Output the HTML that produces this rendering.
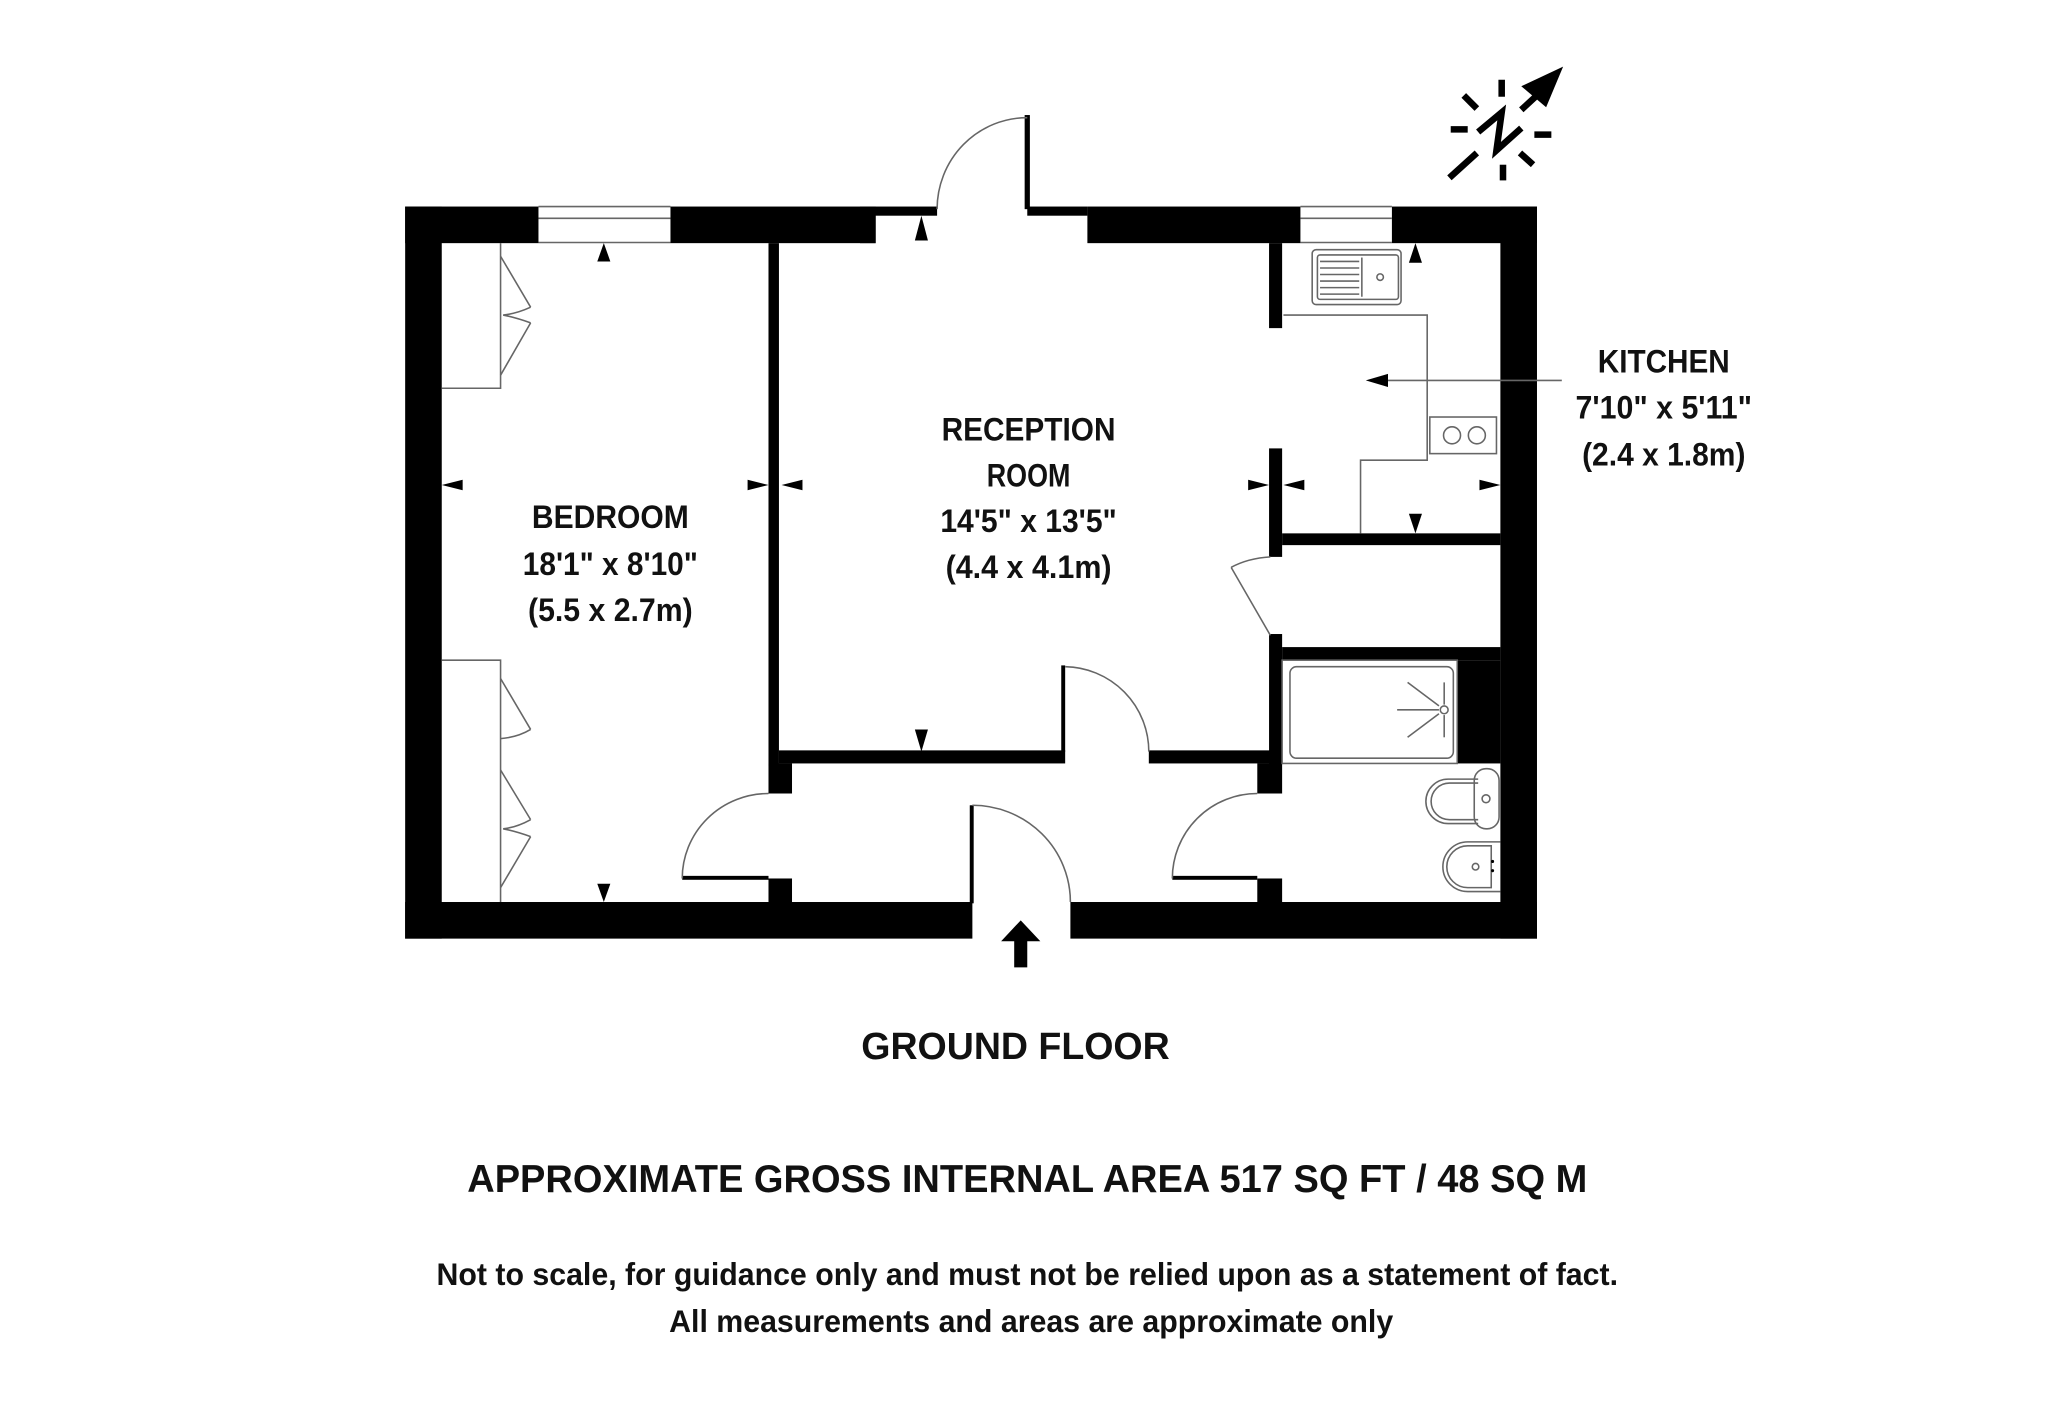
<!DOCTYPE html>
<html><head><meta charset="utf-8"><style>
html,body{margin:0;padding:0;background:#fff;}
svg{display:block;}
text{font-family:"Liberation Sans",sans-serif;font-weight:bold;fill:#111;text-anchor:middle;}
</style></head><body>
<svg width="2048" height="1404" viewBox="0 0 1567 1074" preserveAspectRatio="none" xmlns="http://www.w3.org/2000/svg">
<rect width="1567" height="1074" fill="#fff"/>
<g fill="#000">
<!-- outer walls -->
<rect x="310" y="158" width="28" height="560"/>
<rect x="1148" y="158" width="28" height="560"/>
<rect x="310" y="690" width="434" height="28"/>
<rect x="819" y="690" width="357" height="28"/>
<rect x="310" y="158" width="102" height="28"/>
<rect x="513" y="158" width="157" height="28"/>
<rect x="658" y="158" width="59" height="7"/>
<rect x="658" y="158" width="12" height="28"/>
<rect x="786" y="158" width="46" height="7"/>
<rect x="832" y="158" width="163" height="28"/>
<rect x="1065" y="158" width="111" height="28"/>
<rect x="784" y="88" width="4" height="72"/>
<!-- bedroom/reception partition -->
<rect x="588" y="186" width="8" height="400"/>
<rect x="588" y="584" width="18" height="23"/>
<rect x="588" y="672" width="18" height="20"/>
<!-- reception bottom wall -->
<rect x="596" y="574" width="219" height="10"/>
<rect x="879" y="574" width="93" height="10"/>
<rect x="812" y="509" width="3" height="66"/>
<!-- kitchen partition -->
<rect x="971" y="186" width="10" height="65"/>
<rect x="971" y="343" width="10" height="83"/>
<rect x="971" y="485" width="10" height="100"/>
<rect x="962" y="584" width="19" height="23"/>
<rect x="962" y="672" width="19" height="20"/>
<rect x="981" y="408" width="167" height="9"/>
<rect x="981" y="495" width="167" height="10"/>
<rect x="1115" y="505" width="33" height="79"/>
<rect x="742" y="616" width="3" height="75"/>
<!-- door leaves -->
<rect x="522" y="670" width="66" height="3"/>
<rect x="897" y="670" width="65" height="3"/>
</g>
<g fill="none" stroke="#666" stroke-width="1.2">
<!-- windows -->
<line x1="412" y1="158" x2="513" y2="158"/><line x1="412" y1="167" x2="513" y2="167"/><line x1="412" y1="185.5" x2="513" y2="185.5"/>
<line x1="995" y1="158" x2="1065" y2="158"/><line x1="995" y1="167" x2="1065" y2="167"/><line x1="995" y1="185.5" x2="1065" y2="185.5"/>
<!-- door arcs -->
<path d="M717 160 A69 70 0 0 1 786 90"/>
<path d="M815 510 A65 65 0 0 1 879 575"/>
<path d="M522 672 A66 65 0 0 1 588 607"/>
<path d="M897 672 A65 65 0 0 1 962 607"/>
<path d="M744 616 A75 74 0 0 1 819 690"/>
<path d="M942 434 Q955 427 972 426"/><line x1="942" y1="434" x2="972" y2="486"/>
<!-- wardrobes -->
<polyline points="338,297 383,297 383,186"/>
<polyline points="338,505 383,505 383,690"/>
<polyline points="383,196 406,235"/><path d="M406 235 Q395 240 385 241 Q395 243 406 247"/><polyline points="406,247 383,287"/>
<polyline points="383,519 406,558"/><path d="M406 558 Q396 564 383 565"/>
<polyline points="383,589 406,627"/><path d="M406 627 Q395 633 385 634 Q395 636 406 640"/><polyline points="406,640 383,679"/>
<!-- kitchen -->
<polyline points="982,241 1092,241 1092,352 1041,352 1041,408"/>
<rect x="1004" y="191" width="68" height="42" rx="3"/>
<rect x="1008" y="195" width="62" height="34" rx="2"/>
<line x1="1010" y1="200" x2="1040" y2="200"/><line x1="1010" y1="205" x2="1040" y2="205"/><line x1="1010" y1="210" x2="1040" y2="210"/><line x1="1010" y1="215" x2="1040" y2="215"/><line x1="1010" y1="220" x2="1040" y2="220"/><line x1="1010" y1="225" x2="1040" y2="225"/>
<line x1="1042" y1="197" x2="1042" y2="227"/>
<circle cx="1056" cy="212" r="2.5"/>
<rect x="1094" y="319" width="51" height="28"/>
<circle cx="1111" cy="333" r="6.5"/><circle cx="1130" cy="333" r="6.5"/>
<!-- bath -->
<rect x="981" y="505" width="134" height="79"/>
<rect x="987" y="510" width="125" height="70" rx="5"/>
<circle cx="1105" cy="543" r="3"/>
<line x1="1069" y1="543" x2="1101" y2="543"/>
<line x1="1077" y1="522" x2="1101" y2="540"/><line x1="1077" y1="564" x2="1101" y2="546"/>
<line x1="1105" y1="522" x2="1105" y2="539"/><line x1="1105" y1="547" x2="1105" y2="564"/>
<!-- toilet -->
<path d="M1131 596 L1108 596 A17 17 0 0 0 1108 630 L1131 630"/>
<path d="M1131 599 L1109 599 A14 14 0 0 0 1109 627 L1131 627"/>
<rect x="1128" y="588" width="19" height="46" rx="9"/>
<circle cx="1137" cy="611" r="3"/>
<!-- basin -->
<path d="M1148 644 L1123 644 A19 19 0 0 0 1123 682 L1148 682"/>
<path d="M1141 647 L1123 647 A16 16 0 0 0 1123 679 L1141 679 Z"/>
<circle cx="1129" cy="663" r="2.5"/>
<line x1="1195" y1="291" x2="1060" y2="291"/>
</g>
<g fill="#000">
<circle cx="1142" cy="659" r="1.2"/><circle cx="1142" cy="666" r="1.2"/>
<!-- dimension arrows -->
<polygon points="462,186 457,200 467,200"/>
<polygon points="462,690 457,676 467,676"/>
<polygon points="338,371 354,367 354,375"/>
<polygon points="588,371 572,367 572,375"/>
<polygon points="705,165 700,184 710,184"/>
<polygon points="705,575 700,558 710,558"/>
<polygon points="598,371 614,367 614,375"/>
<polygon points="971,371 955,367 955,375"/>
<polygon points="1083,186 1078,201 1088,201"/>
<polygon points="1083,408 1078,393 1088,393"/>
<polygon points="982,371 998,367 998,375"/>
<polygon points="1148,371 1132,367 1132,375"/>
<polygon points="1045,291 1062,286 1062,296"/>
<!-- entrance arrow -->
<polygon points="781,704 766,720 776,720 776,740 786,740 786,720 796,720"/>
<!-- north arrow -->
<polygon points="1196,51 1164,66 1183,82"/>
</g>
<g stroke="#000" stroke-width="5" fill="none">
<line x1="1164" y1="84" x2="1177" y2="72"/>
<polyline points="1131,101 1149,86 1145,115 1164,98" stroke-linejoin="miter"/>
<line x1="1149" y1="61" x2="1149" y2="74"/>
<line x1="1150" y1="126" x2="1150" y2="138"/>
<line x1="1110" y1="99" x2="1123" y2="99"/>
<line x1="1174" y1="103" x2="1187" y2="103"/>
<line x1="1120" y1="73" x2="1130" y2="83"/>
<line x1="1163" y1="117" x2="1173" y2="126"/>
<line x1="1109" y1="136" x2="1130" y2="117"/>
</g>
<g font-size="25">
<text x="467" y="404" textLength="120" lengthAdjust="spacingAndGlyphs">BEDROOM</text>
<text x="467" y="440" textLength="134" lengthAdjust="spacingAndGlyphs">18'1" x 8'10"</text>
<text x="467" y="475" textLength="126" lengthAdjust="spacingAndGlyphs">(5.5 x 2.7m)</text>
<text x="787" y="337" textLength="133" lengthAdjust="spacingAndGlyphs">RECEPTION</text>
<text x="787" y="372" textLength="64" lengthAdjust="spacingAndGlyphs">ROOM</text>
<text x="787" y="407" textLength="135" lengthAdjust="spacingAndGlyphs">14'5" x 13'5"</text>
<text x="787" y="442" textLength="127" lengthAdjust="spacingAndGlyphs">(4.4 x 4.1m)</text>
<text x="1273" y="285" textLength="101" lengthAdjust="spacingAndGlyphs">KITCHEN</text>
<text x="1273" y="320" textLength="135" lengthAdjust="spacingAndGlyphs">7'10" x 5'11"</text>
<text x="1273" y="356" textLength="125" lengthAdjust="spacingAndGlyphs">(2.4 x 1.8m)</text>
</g>
<text x="777" y="810" font-size="29" textLength="236" lengthAdjust="spacingAndGlyphs">GROUND FLOOR</text>
<text x="786" y="912" font-size="30" textLength="857" lengthAdjust="spacingAndGlyphs">APPROXIMATE GROSS INTERNAL AREA 517 SQ FT / 48 SQ M</text>
<text x="786" y="983" font-size="24" textLength="904" lengthAdjust="spacingAndGlyphs">Not to scale, for guidance only and must not be relied upon as a statement of fact.</text>
<text x="789" y="1019" font-size="24" textLength="554" lengthAdjust="spacingAndGlyphs">All measurements and areas are approximate only</text>
</svg>
</body></html>
